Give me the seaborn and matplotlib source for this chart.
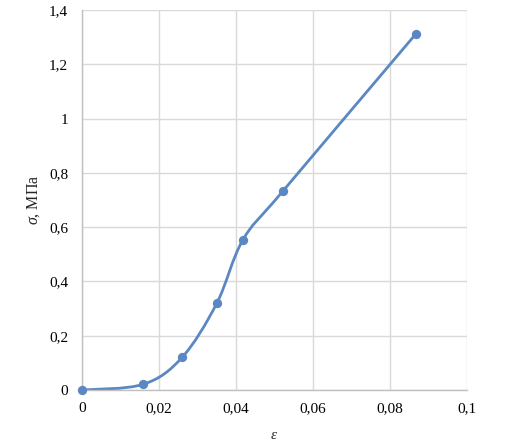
import numpy as np
import pandas as pd
import matplotlib
matplotlib.use("Agg")
import matplotlib.pyplot as plt
from matplotlib.path import Path
from matplotlib.patches import PathPatch
from matplotlib.ticker import FuncFormatter
import seaborn as sns

# Data
strain = [0.0, 0.0159, 0.026, 0.035, 0.0418, 0.0522, 0.0868]
stress = [0.0, 0.021, 0.12, 0.319, 0.553, 0.733, 1.313]
x_ticks = [0, 0.02, 0.04, 0.06, 0.08, 0.1]
y_ticks = [0, 0.2, 0.4, 0.6, 0.8, 1.0, 1.2, 1.4]

data = pd.DataFrame({"eps": strain, "sigma": stress})

sns.set_style("white")
plt.rcParams["font.family"] = ["Liberation Serif", "DejaVu Serif"]
plt.rcParams["mathtext.fontset"] = "custom"
plt.rcParams["mathtext.rm"] = "Liberation Serif"
plt.rcParams["mathtext.it"] = "Liberation Serif:italic"

blue = "#5B87C2"

fig = plt.figure(figsize=(5.14, 4.45), dpi=100)
ax = fig.add_axes([0.1595, 0.1236, 0.749, 0.854])

# Excel-style smoothed line: cubic Bezier segments through the points
x = np.array(strain)
y = np.array(stress)
verts = [(x[0], y[0])]
codes = [Path.MOVETO]
n = len(x)
for i in range(n - 1):
    p0 = np.array([x[max(i - 1, 0)], y[max(i - 1, 0)]])
    p1 = np.array([x[i], y[i]])
    p2 = np.array([x[i + 1], y[i + 1]])
    p3 = np.array([x[min(i + 2, n - 1)], y[min(i + 2, n - 1)]])
    c1 = p1 + (p2 - p0) / 6
    c2 = p2 - (p3 - p1) / 6
    verts += [tuple(c1), tuple(c2), tuple(p2)]
    codes += [Path.CURVE4] * 3
ax.add_patch(PathPatch(Path(verts, codes), facecolor="none", edgecolor=blue,
                       lw=2, zorder=2, capstyle="round"))

sns.scatterplot(data=data, x="eps", y="sigma", ax=ax, color=blue, s=45,
                edgecolor=blue, linewidth=0, zorder=3, clip_on=False)

ax.set_xlim(0, 0.1)
ax.set_ylim(0, 1.4)


def comma(v, pos):
    s = f"{v:.2f}".rstrip("0").rstrip(".")
    return s.replace(".", ",")


ax.set_xticks(x_ticks)
ax.set_yticks(y_ticks)
ax.xaxis.set_major_formatter(FuncFormatter(comma))
ax.yaxis.set_major_formatter(FuncFormatter(comma))

ax.grid(True, color="#D9D9D9", lw=1)
ax.set_axisbelow(True)
for side in ["top", "right"]:
    ax.spines[side].set_visible(False)
for side in ["left", "bottom"]:
    ax.spines[side].set_color("#BFBFBF")
    ax.spines[side].set_linewidth(1)

ax.tick_params(axis="both", length=0, labelsize=11, colors="#000000")
ax.tick_params(axis="y", pad=10)
ax.tick_params(axis="x", pad=9)

ax.set_xlabel("$\\mathit{ε}$", fontsize=11, labelpad=10)
ax.set_ylabel("$\\mathit{σ}$, МПа", fontsize=11.5, labelpad=5)

fig.savefig("out.png", dpi=100)
